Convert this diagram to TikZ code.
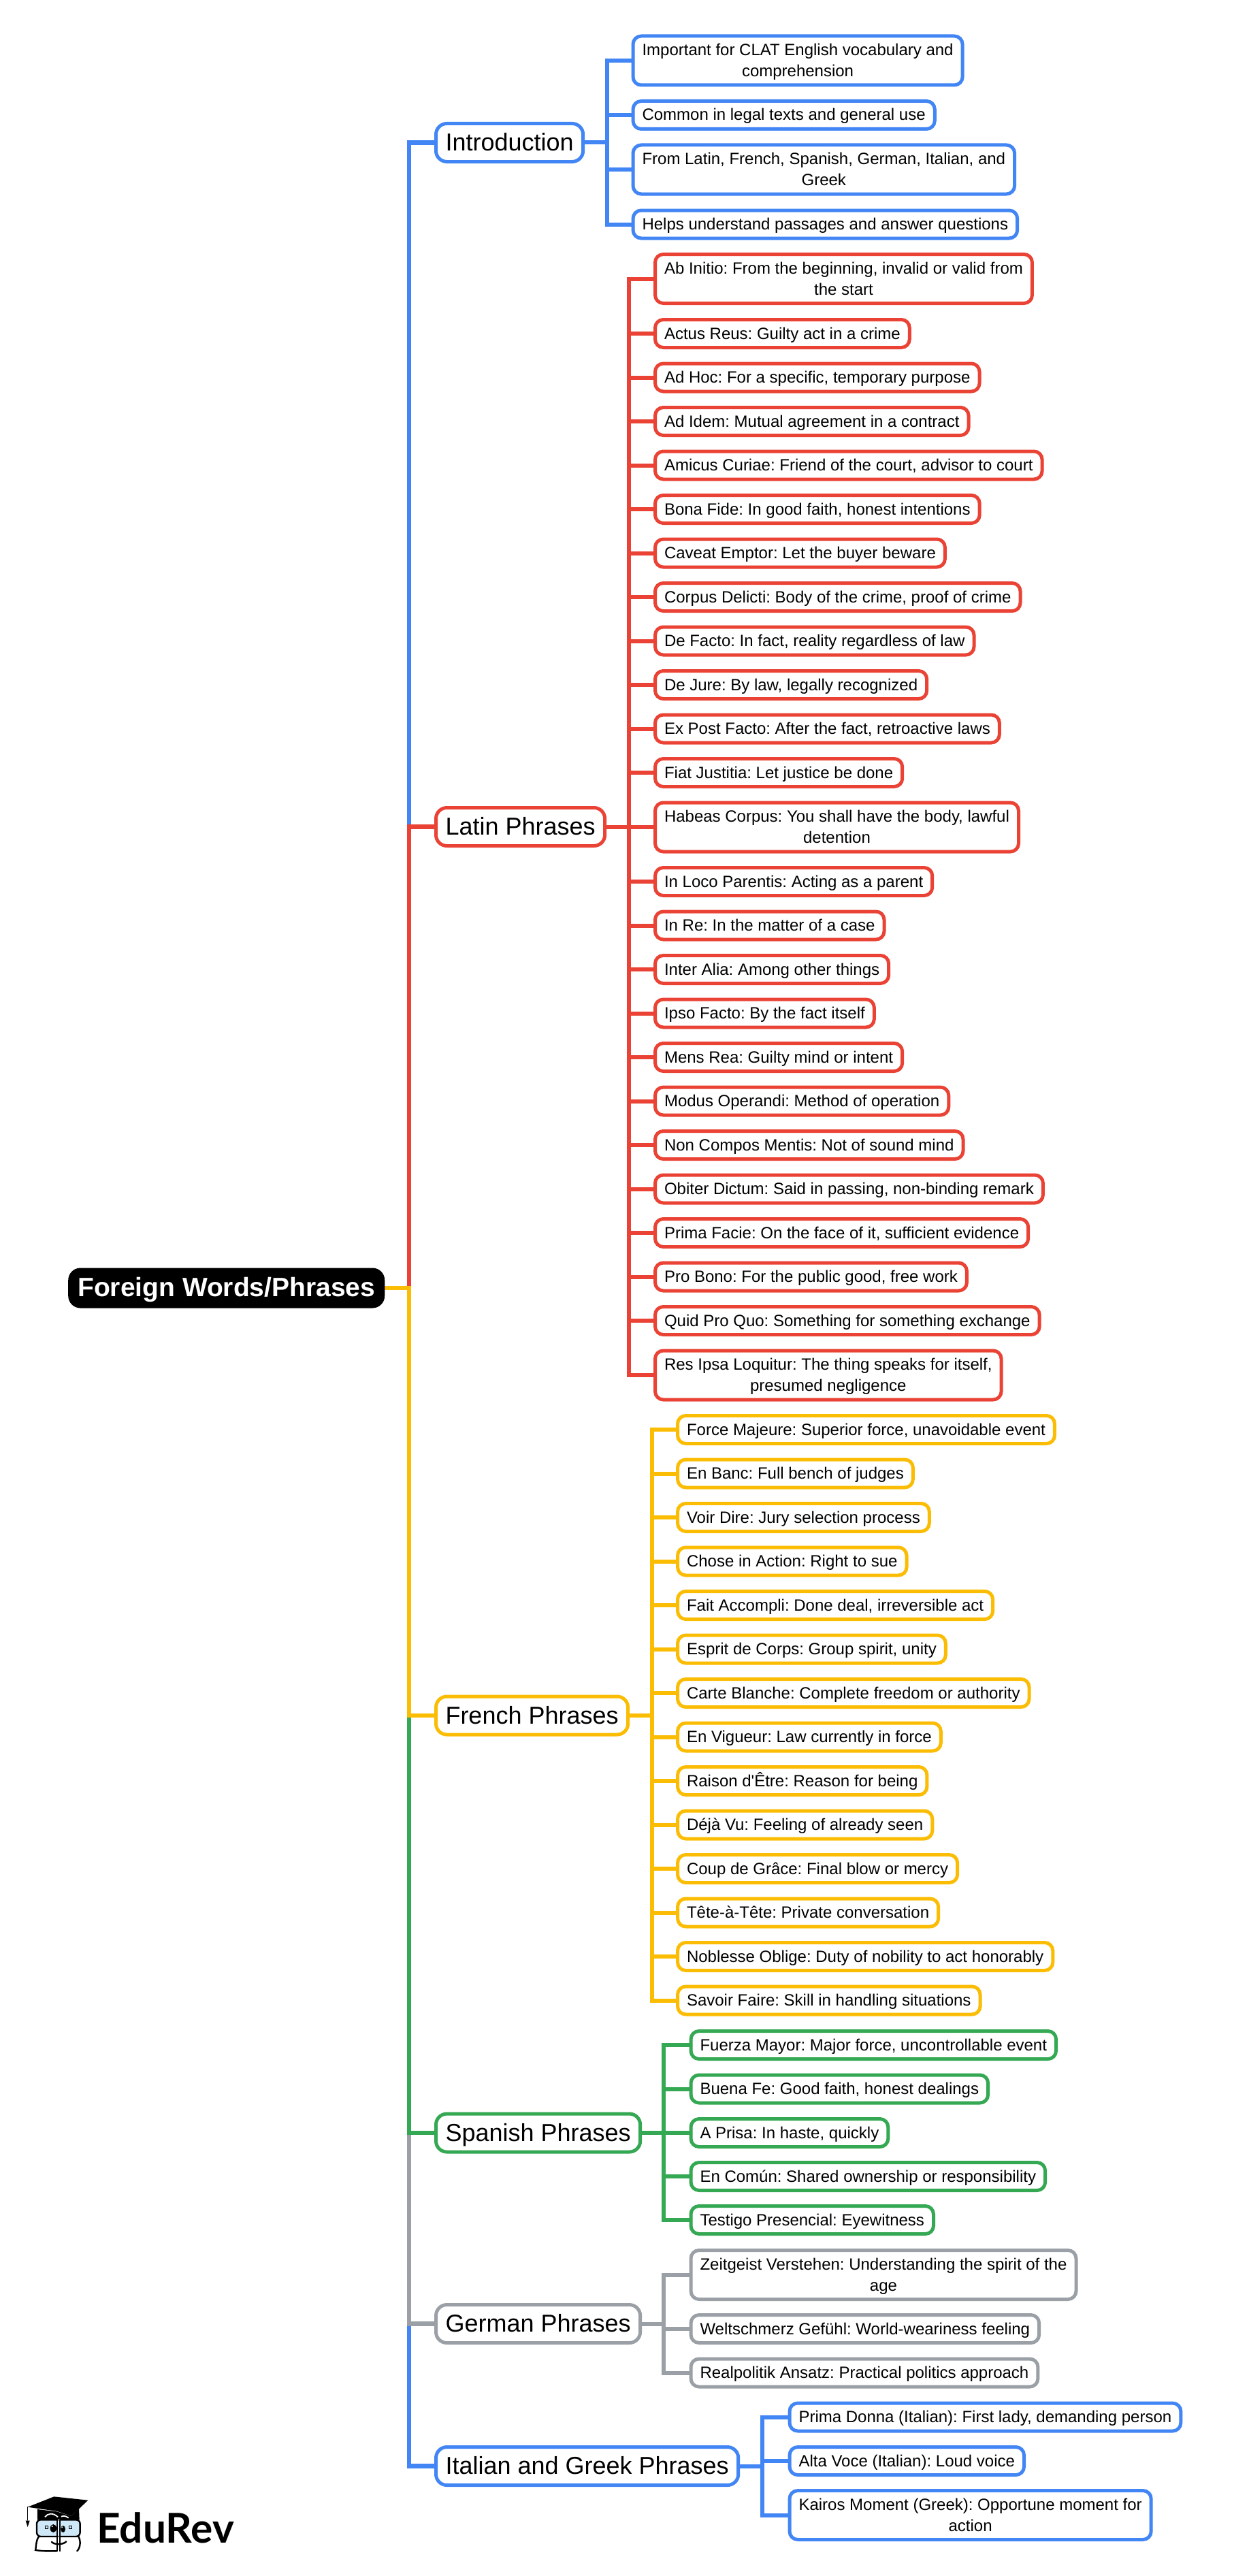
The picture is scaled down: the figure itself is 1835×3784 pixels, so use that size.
\documentclass[tikz,border=0pt]{standalone}
\usepackage{fontspec}
\setmainfont{Liberation Sans}[Ligatures=TeXOff]
\newfontfamily\logofont{Lato}
\usetikzlibrary{backgrounds,calc}
\definecolor{cblue}{HTML}{4285F4}
\definecolor{cred}{HTML}{EA4335}
\definecolor{cyellow}{HTML}{FBBC04}
\definecolor{cgreen}{HTML}{34A853}
\definecolor{cgray}{HTML}{9AA0A6}
\definecolor{glass}{HTML}{CFE8F8}
\newcommand{\st}{\rule[-6pt]{0pt}{28pt}}
\newcommand{\bt}{\rule[-9pt]{0pt}{42pt}}
\tikzset{
  leafbox/.style={draw=#1,line width=5pt,fill=white,rounded corners=12pt,anchor=west,align=center,
    inner xsep=13.5pt,inner ysep=0pt,minimum height=41pt,font=\fontsize{24}{31}\selectfont\frenchspacing},
  two/.style={minimum height=72pt},
  branchbox/.style={draw=#1,line width=5pt,fill=white,rounded corners=16pt,anchor=west,align=center,
    inner xsep=14pt,inner ysep=0pt,minimum height=56pt,font=\fontsize{36}{44}\selectfont\frenchspacing},
  rootbox/.style={fill=black,text=white,rounded corners=18pt,anchor=west,align=center,
    inner xsep=14pt,inner ysep=0pt,minimum height=59pt,font=\fontsize{39}{46}\selectfont\bfseries\frenchspacing},
  conn/.style={draw=#1,line width=6pt,line join=miter},
  trunkline/.style={draw=#1,line width=6.5pt,line join=miter},
  logoline/.style={draw=black,line width=2.4pt,line cap=round}
}
\begin{document}
\begin{tikzpicture}[x=1pt,y=-1pt]
\useasboundingbox (0,0) rectangle (1835,3784);
% root and branches
\node[rootbox] (root) at (100,1892) {\bt Foreign Words/Phrases};
\node[branchbox=cblue] (intro) at (638,209.5) {\bt Introduction};
\node[branchbox=cred] (latin) at (638,1214.5) {\bt Latin Phrases};
\node[branchbox=cyellow] (french) at (638,2520) {\bt French Phrases};
\node[branchbox=cgreen] (spanish) at (638,3133) {\bt Spanish Phrases};
\node[branchbox=cgray] (german) at (638,3413.5) {\bt German Phrases};
\node[branchbox=cblue] (italian) at (638,3622.5) {\bt Italian and Greek Phrases};
% introduction leaves
\node[leafbox=cblue,two] (i1) at (927.5,89) {\st Important for CLAT English vocabulary and\\\st comprehension};
\node[leafbox=cblue] (i2) at (927.5,169) {\st Common in legal texts and general use};
\node[leafbox=cblue,two] (i3) at (927.5,249) {\st From Latin, French, Spanish, German, Italian, and\\\st Greek};
\node[leafbox=cblue] (i4) at (927.5,329.5) {\st Helps understand passages and answer questions};
% latin leaves
\node[leafbox=cred,two] (l1) at (960,409.5) {\st Ab Initio: From the beginning, invalid or valid from\\\st the start};
\node[leafbox=cred] (l2) at (960,490) {\st Actus Reus: Guilty act in a crime};
\node[leafbox=cred] (l3) at (960,554.5) {\st Ad Hoc: For a specific, temporary purpose};
\node[leafbox=cred] (l4) at (960,619) {\st Ad Idem: Mutual agreement in a contract};
\node[leafbox=cred] (l5) at (960,683.5) {\st Amicus Curiae: Friend of the court, advisor to court};
\node[leafbox=cred] (l6) at (960,748) {\st Bona Fide: In good faith, honest intentions};
\node[leafbox=cred] (l7) at (960,812.5) {\st Caveat Emptor: Let the buyer beware};
\node[leafbox=cred] (l8) at (960,877) {\st Corpus Delicti: Body of the crime, proof of crime};
\node[leafbox=cred] (l9) at (960,941.5) {\st De Facto: In fact, reality regardless of law};
\node[leafbox=cred] (l10) at (960,1006) {\st De Jure: By law, legally recognized};
\node[leafbox=cred] (l11) at (960,1070.5) {\st Ex Post Facto: After the fact, retroactive laws};
\node[leafbox=cred] (l12) at (960,1135) {\st Fiat Justitia: Let justice be done};
\node[leafbox=cred,two] (l13) at (960,1215) {\st Habeas Corpus: You shall have the body, lawful\\\st detention};
\node[leafbox=cred] (l14) at (960,1295) {\st In Loco Parentis: Acting as a parent};
\node[leafbox=cred] (l15) at (960,1359.5) {\st In Re: In the matter of a case};
\node[leafbox=cred] (l16) at (960,1424) {\st Inter Alia: Among other things};
\node[leafbox=cred] (l17) at (960,1488.5) {\st Ipso Facto: By the fact itself};
\node[leafbox=cred] (l18) at (960,1553) {\st Mens Rea: Guilty mind or intent};
\node[leafbox=cred] (l19) at (960,1617.5) {\st Modus Operandi: Method of operation};
\node[leafbox=cred] (l20) at (960,1682) {\st Non Compos Mentis: Not of sound mind};
\node[leafbox=cred] (l21) at (960,1746.5) {\st Obiter Dictum: Said in passing, non-binding remark};
\node[leafbox=cred] (l22) at (960,1811) {\st Prima Facie: On the face of it, sufficient evidence};
\node[leafbox=cred] (l23) at (960,1875.5) {\st Pro Bono: For the public good, free work};
\node[leafbox=cred] (l24) at (960,1940) {\st Quid Pro Quo: Something for something exchange};
\node[leafbox=cred,two] (l25) at (960,2020) {\st Res Ipsa Loquitur: The thing speaks for itself,\\\st presumed negligence};
% french leaves
\node[leafbox=cyellow] (f1) at (993,2100) {\st Force Majeure: Superior force, unavoidable event};
\node[leafbox=cyellow] (f2) at (993,2164.5) {\st En Banc: Full bench of judges};
\node[leafbox=cyellow] (f3) at (993,2229) {\st Voir Dire: Jury selection process};
\node[leafbox=cyellow] (f4) at (993,2293.5) {\st Chose in Action: Right to sue};
\node[leafbox=cyellow] (f5) at (993,2358) {\st Fait Accompli: Done deal, irreversible act};
\node[leafbox=cyellow] (f6) at (993,2422.5) {\st Esprit de Corps: Group spirit, unity};
\node[leafbox=cyellow] (f7) at (993,2487) {\st Carte Blanche: Complete freedom or authority};
\node[leafbox=cyellow] (f8) at (993,2551.5) {\st En Vigueur: Law currently in force};
\node[leafbox=cyellow] (f9) at (993,2616) {\st Raison d'Être: Reason for being};
\node[leafbox=cyellow] (f10) at (993,2680.5) {\st Déjà Vu: Feeling of already seen};
\node[leafbox=cyellow] (f11) at (993,2745) {\st Coup de Grâce: Final blow or mercy};
\node[leafbox=cyellow] (f12) at (993,2809.5) {\st Tête-à-Tête: Private conversation};
\node[leafbox=cyellow] (f13) at (993,2874) {\st Noblesse Oblige: Duty of nobility to act honorably};
\node[leafbox=cyellow] (f14) at (993,2938.5) {\st Savoir Faire: Skill in handling situations};
% spanish leaves
\node[leafbox=cgreen] (s1) at (1012.5,3004) {\st Fuerza Mayor: Major force, uncontrollable event};
\node[leafbox=cgreen] (s2) at (1012.5,3068.5) {\st Buena Fe: Good faith, honest dealings};
\node[leafbox=cgreen] (s3) at (1012.5,3133) {\st A Prisa: In haste, quickly};
\node[leafbox=cgreen] (s4) at (1012.5,3197) {\st En Común: Shared ownership or responsibility};
\node[leafbox=cgreen] (s5) at (1012.5,3261) {\st Testigo Presencial: Eyewitness};
% german leaves
\node[leafbox=cgray,two] (g1) at (1012.5,3341.5) {\st Zeitgeist Verstehen: Understanding the spirit of the\\\st age};
\node[leafbox=cgray] (g2) at (1012.5,3421) {\st Weltschmerz Gefühl: World-weariness feeling};
\node[leafbox=cgray] (g3) at (1012.5,3485.5) {\st Realpolitik Ansatz: Practical politics approach};
% italian leaves
\node[leafbox=cblue] (t1) at (1157.5,3550.5) {\st Prima Donna (Italian): First lady, demanding person};
\node[leafbox=cblue] (t2) at (1157.5,3615) {\st Alta Voce (Italian): Loud voice};
\node[leafbox=cblue,two] (t3) at (1157.5,3694.5) {\st Kairos Moment (Greek): Opportune moment for\\\st action};
% junctions
\coordinate (trunk) at (601,1892);
\coordinate (busi) at (892,209.5);
\coordinate (busl) at (923.5,1214.5);
\coordinate (busf) at (958,2520);
\coordinate (buss) at (975,3133);
\coordinate (busg) at (975,3413.5);
\coordinate (bust) at (1120,3622.5);
\begin{scope}[on background layer]
  \draw[trunkline=cblue] (root.east) -- (trunk) |- (italian.west);
  \draw[trunkline=cgray] (root.east) -- (trunk) |- (german.west);
  \draw[trunkline=cgreen] (root.east) -- (trunk) |- (spanish.west);
  \draw[trunkline=cblue] (root.east) -- (trunk) |- (intro.west);
  \draw[trunkline=cred] (root.east) -- (trunk) |- (latin.west);
  \draw[trunkline=cyellow] (root.east) -- (trunk) |- (french.west);
  \foreach \n in {i1,i2,i3,i4}
    \draw[conn=cblue] (intro.east) -- (busi) |- (\n.west);
  \foreach \n in {l1,l2,l3,l4,l5,l6,l7,l8,l9,l10,l11,l12,l13,l14,l15,l16,l17,l18,l19,l20,l21,l22,l23,l24,l25}
    \draw[conn=cred] (latin.east) -- (busl) |- (\n.west);
  \foreach \n in {f1,f2,f3,f4,f5,f6,f7,f8,f9,f10,f11,f12,f13,f14}
    \draw[conn=cyellow] (french.east) -- (busf) |- (\n.west);
  \foreach \n in {s1,s2,s3,s4,s5}
    \draw[conn=cgreen] (spanish.east) -- (buss) |- (\n.west);
  \foreach \n in {g1,g2,g3}
    \draw[conn=cgray] (german.east) -- (busg) |- (\n.west);
  \foreach \n in {t1,t2,t3}
    \draw[conn=cblue] (italian.east) -- (bust) |- (\n.west);
\end{scope}
% EduRev logo
\node[anchor=base west,inner sep=0pt,font=\logofont\bfseries\fontsize{60.4}{62}\selectfont] (logotext) at (142,3735) {EduRev};
\begin{scope}[shift={(20,3640)},x=0.3333pt,y=-0.3333pt]
  \fill (105,138) -- (105,185) -- (290,185) -- (288,135) -- (255,168) -- (190,148) -- cycle;
  \draw[white,line width=1.8pt] (138,172) .. controls (150,155) and (175,152) .. (195,172);
  \draw[white,line width=1.8pt] (210,170) .. controls (220,165) and (232,168) .. (242,176);
  \fill (62,128) -- (178,82) -- (328,98) -- (255,168) -- (190,146) -- (110,135) -- cycle;
  \draw[logoline,line width=1.6pt] (62,128) -- (62,186);
  \fill (53,188) -- (71,188) -- (62,216) -- cycle;
  \draw[logoline,fill=glass,rounded corners=6pt] (102,184) rectangle (293,258);
  \draw[logoline,rounded corners=8pt] (286,258) .. controls (296,275) and (296,305) .. (280,322);
  \draw[logoline,rounded corners=8pt] (190,322) -- (120,322) .. controls (98,318) and (98,270) .. (112,258);
  \draw[logoline,line width=1.8pt] (192,182) -- (192,322);
  \fill[white] (198,180) rectangle (204,324);
  \draw[logoline,line width=1.8pt] (204,182) -- (204,322);
  \fill (175,222) ellipse [x radius=14,y radius=18];
  \fill (218,225) ellipse [x radius=10,y radius=15];
  \fill[white] (170,213) circle (3.5);
  \fill[white] (214,217) circle (3);
  \draw[black,line width=0.8pt] (140,212) rectangle (150,222);
  \draw[black,line width=0.8pt] (245,212) rectangle (255,222);
  \draw[logoline] (168,282) .. controls (180,295) and (218,295) .. (232,280);
\end{scope}
\end{tikzpicture}
\end{document}
